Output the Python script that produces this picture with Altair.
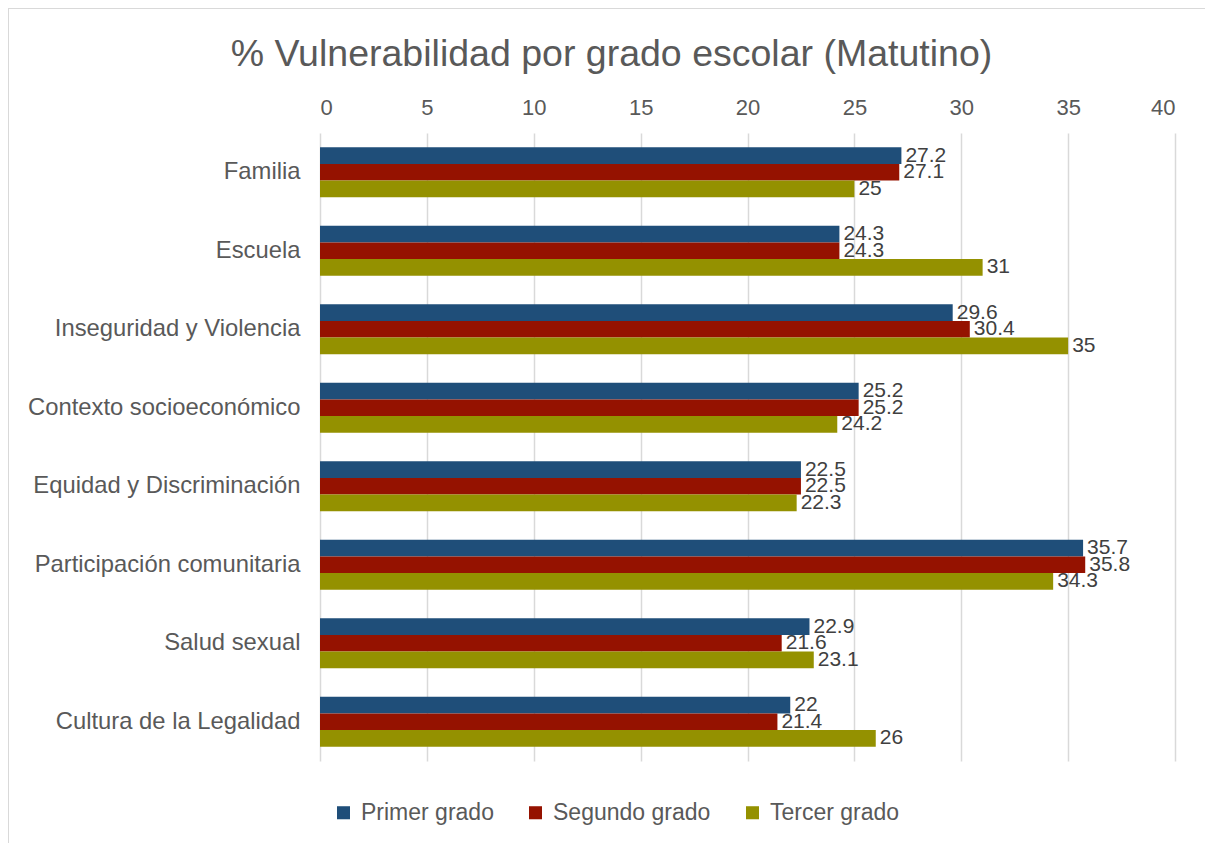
import altair as alt
import pandas as pd

categories = ["Familia", "Escuela", "Inseguridad y Violencia", "Contexto socioeconómico",
              "Equidad y Discriminación", "Participación comunitaria", "Salud sexual",
              "Cultura de la Legalidad"]
series = ["Primer grado", "Segundo grado", "Tercer grado"]
primer = [27.2, 24.3, 29.6, 25.2, 22.5, 35.7, 22.9, 22.0]
segundo = [27.1, 24.3, 30.4, 25.2, 22.5, 35.8, 21.6, 21.4]
tercer = [25.0, 31.0, 35.0, 24.2, 22.3, 34.3, 23.1, 26.0]
colors = ["#1F4E79", "#951200", "#949100"]

rows = []
for s_i, (s, vals) in enumerate(zip(series, [primer, segundo, tercer])):
    for c, v in zip(categories, vals):
        rows.append({"Categoria": c, "Grado": s, "Orden": s_i, "Valor": v,
                     "Etiqueta": f"{v:g}"})
df = pd.DataFrame(rows)

font = "Liberation Sans"

y_enc = alt.Y("Categoria:N", sort=categories, title=None,
              scale=alt.Scale(paddingInner=0.36, paddingOuter=0.18),
              axis=alt.Axis(labelFontSize=23.8, labelColor="#595959", labelFont=font,
                            ticks=False, domain=False, labelPadding=20, labelLimit=0))
yoff = alt.YOffset("Grado:N", sort=series, scale=alt.Scale(paddingInner=0, paddingOuter=0))
x_enc = alt.X("Valor:Q", title=None,
              scale=alt.Scale(domain=[0, 40], nice=False),
              axis=alt.Axis(orient="top", values=list(range(0, 45, 5)), labelFontSize=22,
                            labelColor="#595959", labelFont=font, ticks=False, domain=False,
                            gridColor="#D9D9D9", gridWidth=1.5, labelPadding=14))

bars = alt.Chart(df).mark_bar().encode(
    x=x_enc,
    y=y_enc,
    yOffset=yoff,
    color=alt.Color("Grado:N", sort=series,
                    scale=alt.Scale(domain=series, range=colors),
                    legend=alt.Legend(title=None, orient="none", direction="horizontal",
                                      legendX=12, legendY=668, labelFontSize=23,
                                      labelColor="#595959", labelFont=font,
                                      symbolType="square", symbolSize=170,
                                      symbolStrokeWidth=0, columnPadding=30,
                                      labelOffset=6)),
)

labels = alt.Chart(df).mark_text(align="left", baseline="middle", dx=4, fontSize=21,
                                 color="#404040", font=font).encode(
    x="Valor:Q",
    y=alt.Y("Categoria:N", sort=categories),
    yOffset=alt.YOffset("Grado:N", sort=series),
    text="Etiqueta:N",
)

frame_left = alt.Chart(df).mark_rule(color="#D9D9D9", strokeWidth=1.5).encode(
    x=alt.value(-312), y=alt.value(-125), y2=alt.value(720))
frame_top = alt.Chart(df).mark_rule(color="#D9D9D9", strokeWidth=1.5).encode(
    x=alt.value(-312), x2=alt.value(900), y=alt.value(-125))

chart = alt.layer(frame_left, frame_top, bars, labels).properties(
    width=855, height=628,
    title=alt.TitleParams("% Vulnerabilidad por grado escolar (Matutino)", fontSize=37.5,
                          font=font, color="#595959", fontWeight="normal", offset=-66,
                          anchor="middle", dx=-136),
    autosize=alt.AutoSizeParams(type="none"),
    padding={"left": 312, "top": 125, "right": 30, "bottom": 82},
).configure(background="white").configure_view(stroke=None)

chart.save("out.html", embed_options={"renderer": "svg", "actions": False})
